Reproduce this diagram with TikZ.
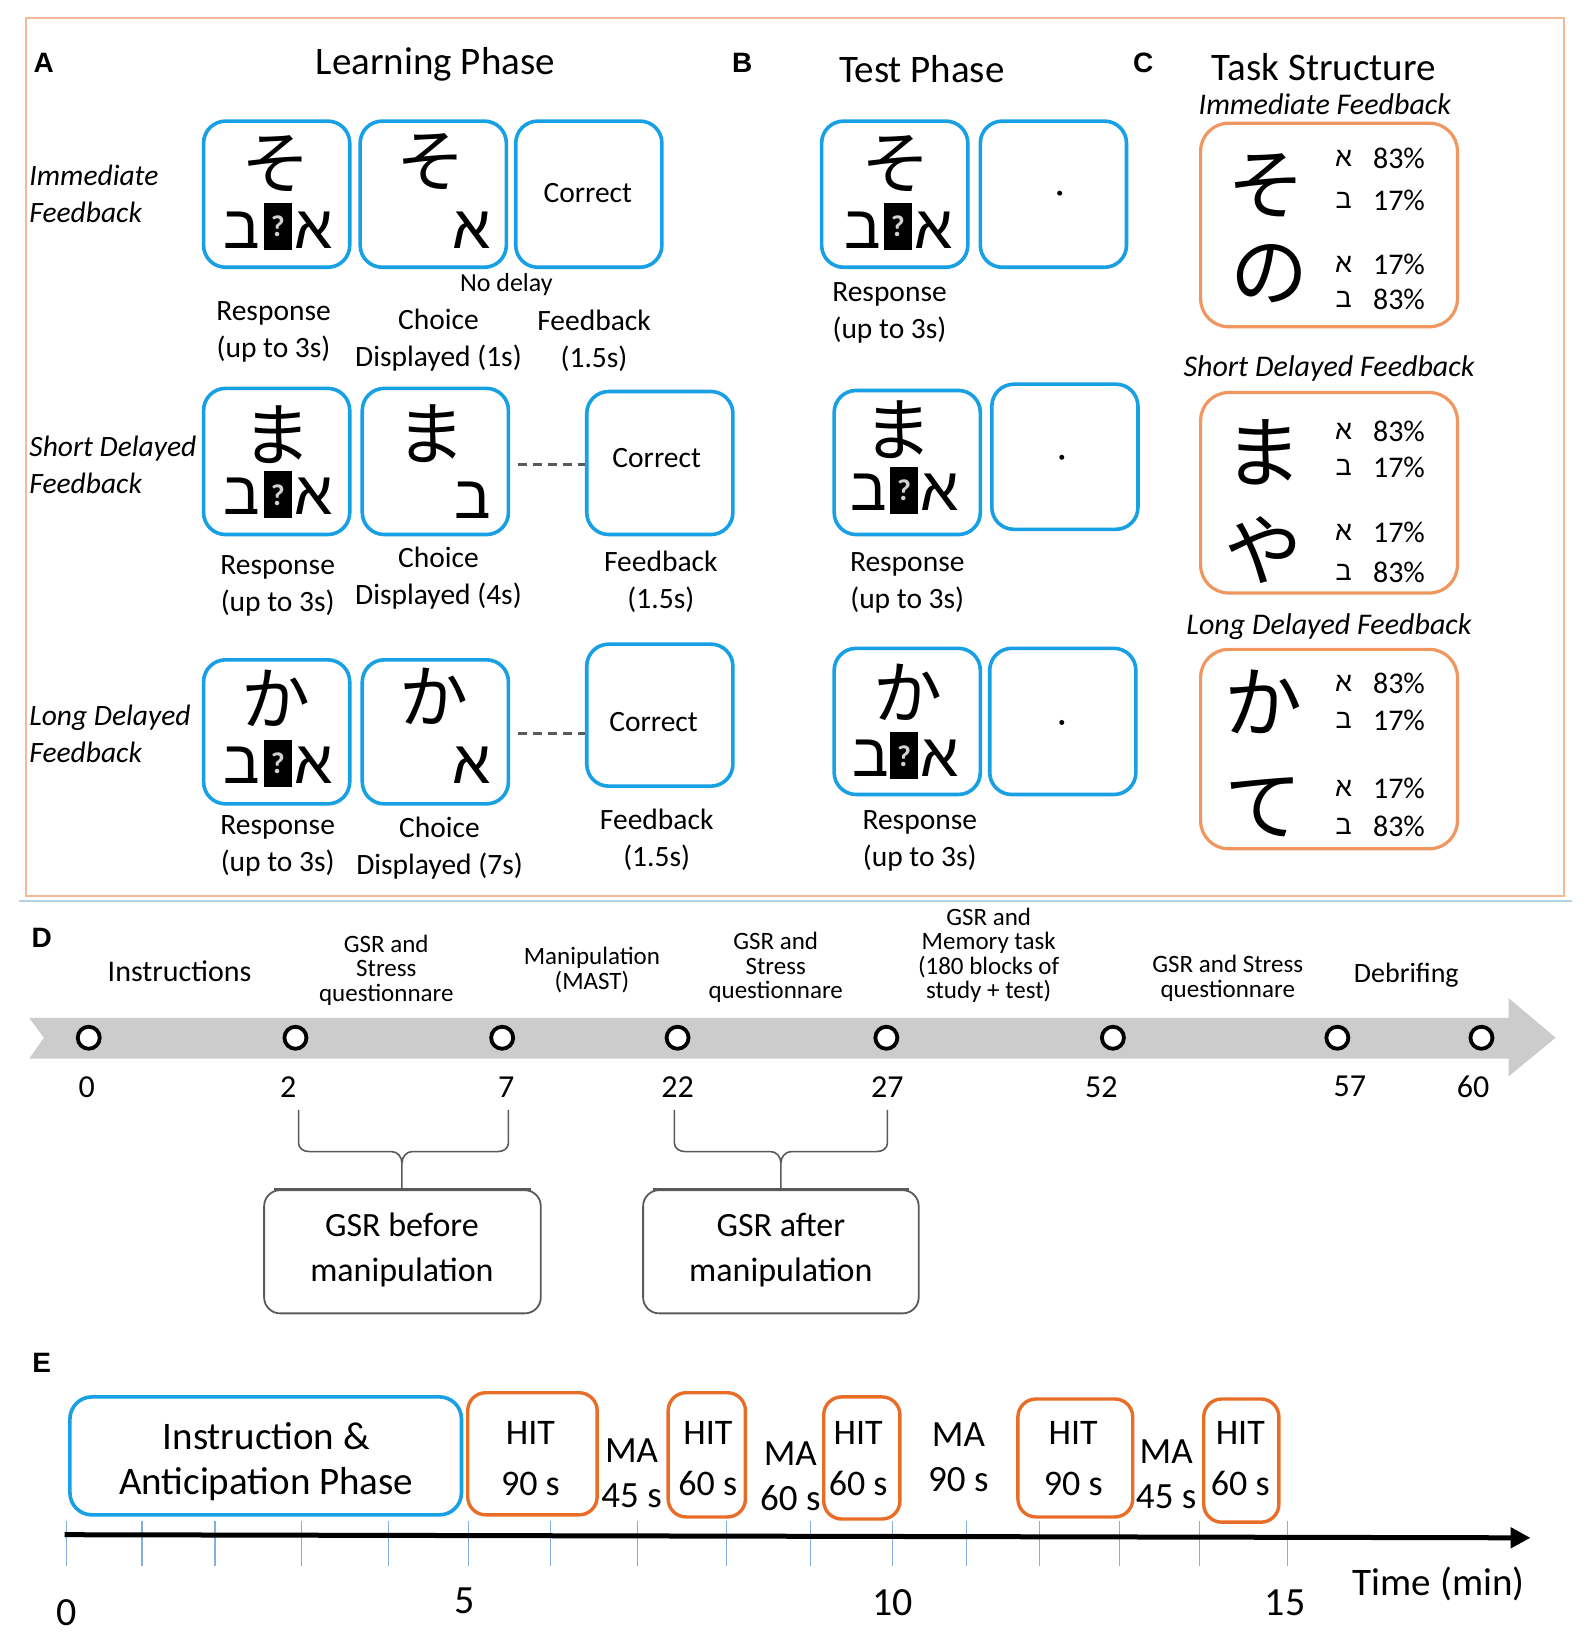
\documentclass[tikz,border=0pt]{standalone}
\usepackage{fontspec}
\setmainfont{Carlito}
\newfontfamily\jp{Noto Sans CJK JP}
\newfontfamily\heb[Script=Hebrew]{Liberation Sans}
\newfontfamily\arl{Liberation Sans}
\TeXXeTstate=1
\usetikzlibrary{fit,arrows.meta}
\definecolor{bblue}{RGB}{24,160,228}
\definecolor{ora}{RGB}{240,150,95}
\definecolor{frameor}{RGB}{246,185,150}
\definecolor{hitor}{RGB}{232,110,40}
\definecolor{tickb}{RGB}{130,175,220}
\definecolor{bandg}{RGB}{204,204,204}
\definecolor{boxg}{RGB}{90,90,90}
\newcommand\fsz[2]{\fontsize{#1}{#2}\selectfont}
\newcommand\hb[1]{{\heb\beginR#1\endR}}
\tikzset{
  bluebox/.style={draw=bblue, line width=3.6pt, rounded corners=22pt, inner sep=0pt},
  orabox/.style={draw=ora, line width=3.2pt, rounded corners=28pt, inner sep=0pt},
  hitbox/.style={draw=hitor, line width=3.4pt, rounded corners=18pt, inner sep=0pt},
  gbox/.style={draw=boxg, line width=1.8pt, rounded corners=16pt, inner sep=0pt},
  panel/.style={font=\arl\bfseries\fsz{28}{28}, inner sep=0pt},
  title/.style={font=\fsz{39}{39}, inner sep=0pt},
  lab/.style={align=center, inner sep=0pt, font=\fsz{29.5}{37}},
  rowlab/.style={align=left, anchor=west, inner sep=0pt, font=\itshape\fsz{29.5}{37}},
  sub/.style={inner sep=0pt, font=\itshape\fsz{30}{30}},
  kana/.style={inner sep=0pt, font=\jp\fsz{69}{69}},
  bigkana/.style={inner sep=0pt, font=\jp\fsz{78}{78}},
  hebl/.style={anchor=base, inner sep=0pt, font=\heb\fsz{61}{61}},
  hebs/.style={inner sep=0pt, font=\heb\fsz{27}{27}},
  pct/.style={inner sep=0pt, font=\fsz{30}{30}},
  qbox/.style={fill=black, minimum width=28pt, minimum height=47pt, inner sep=0pt, text=gray!35, font=\bfseries\fsz{30}{30}},
  dotn/.style={circle, fill=black, minimum size=5pt, inner sep=0pt},
  dlab/.style={align=center, inner sep=0pt, font=\fsz{25}{24.5}},
  dnum/.style={inner sep=0pt, font=\fsz{32}{32}},
  tcirc/.style={circle, draw=black, fill=white, line width=3.8pt, minimum size=22pt, inner sep=0pt},
  brace/.style={draw=boxg, line width=1.6pt},
  elab/.style={align=center, inner sep=0pt, font=\fsz{37}{45}},
  tick/.style={draw=tickb, line width=1.2pt},
  dashc/.style={draw=boxg, line width=3pt, dash pattern=on 9pt off 6pt},
}
\begin{document}
\begin{tikzpicture}[x=1.0439pt,y=-1.0439pt]
\useasboundingbox (0,0) rectangle (1526,1568);
\fill[white] (0,0) rectangle (1526,1568);
% outer frame
\draw[frameor, line width=2.4pt] (25,17) rectangle (1498,858);
\draw[gray!40!bblue!40, line width=2pt] (18,863) -- (1506,863);
% ---------------- titles
\node[panel] (pA) at (42,60) {A};
\node[title] (tA) at (417,62) {Learning Phase};
\node[panel] (pB) at (711,60) {B};
\node[title] (tB) at (883,66) {Test Phase};
\node[panel] (pC) at (1095,60) {C};
\node[title] (tC) at (1268,64) {Task Structure};
% ---------------- Learning phase row 1
\node[rowlab] (rl1) at (28,186) {Immediate\\Feedback};
\node[bluebox, fit={(195,116) (335,256)}] (L1a) {};
\node[bluebox, fit={(345,116) (485,256)}] (L1b) {};
\node[bluebox, fit={(494,116) (634,256)}] (L1c) {};
\node[kana] (L1ak) at (264,157) {そ};
\node[hebl] (L1ab) at (232,238) {\hb{ב}};
\node[qbox] (L1aq) at (266,217) {?};
\node[hebl] (L1aa) at (300,238) {\hb{א}};
\node[kana] (L1bk) at (413,155) {そ};
\node[hebl] (L1ba) at (452,238) {\hb{א}};
\node[lab] (L1ct) at (563,185) {Correct};
\node[inner sep=0pt, font=\fsz{26}{26}] (nd) at (485,273) {No delay};
\node[lab] (L1r) at (262,318) {Response\\(up to 3s)};
\node[lab] (L1s) at (420,326) {Choice\\Displayed (1s)};
\node[lab] (L1f) at (569,326) {Feedback\\(1.5s)};
% ---------------- Learning phase row 2
\node[rowlab] (rl2) at (28,445) {Short Delayed\\Feedback};
\node[bluebox, fit={(195,372) (335,512)}] (L2a) {};
\node[bluebox, fit={(347,372) (487,512)}] (L2b) {};
\node[bluebox, fit={(562,375) (702,512)}] (L2c) {};
\node[kana] (L2ak) at (265,416) {ま};
\node[hebl] (L2ab) at (232,493) {\hb{ב}};
\node[qbox] (L2aq) at (266,474) {?};
\node[hebl] (L2aa) at (300,493) {\hb{א}};
\node[kana] (L2bk) at (413,415) {ま};
\node[hebl] (L2bb) at (453,497) {\hb{ב}};
\node[lab] (L2ct) at (629,439) {Correct};
\draw[dashc] ([xshift=8pt]L2b.east |- 0,445) -- (L2c.west |- 0,445);
\node[lab] (L2r) at (266,561) {Response\\(up to 3s)};
\node[lab] (L2s) at (420,554) {Choice\\Displayed (4s)};
\node[lab] (L2f) at (633,557) {Feedback\\(1.5s)};
% ---------------- Learning phase row 3
\node[rowlab] (rl3) at (28,703) {Long Delayed\\Feedback};
\node[bluebox, fit={(195,632) (335,770)}] (L3a) {};
\node[bluebox, fit={(347,632) (487,770)}] (L3b) {};
\node[bluebox, fit={(562,617) (702,753)}] (L3c) {};
\node[kana] (L3ak) at (264,669) {か};
\node[hebl] (L3ab) at (232,750) {\hb{ב}};
\node[qbox] (L3aq) at (266,731) {?};
\node[hebl] (L3aa) at (300,750) {\hb{א}};
\node[kana] (L3bk) at (416,667) {か};
\node[hebl] (L3ba) at (452,750) {\hb{א}};
\node[lab] (L3ct) at (626,692) {Correct};
\draw[dashc] ([xshift=8pt]L3b.east |- 0,703) -- (L3c.west |- 0,703);
\node[lab] (L3r) at (266,810) {Response\\(up to 3s)};
\node[lab] (L3s) at (421,812) {Choice\\Displayed (7s)};
\node[lab] (L3f) at (629,804) {Feedback\\(1.5s)};
% ---------------- Test phase
\node[bluebox, fit={(787,116) (927,256)}] (T1a) {};
\node[bluebox, fit={(939,116) (1079,256)}] (T1b) {};
\node[kana] (T1ak) at (858,157) {そ};
\node[hebl] (T1ab) at (826,238) {\hb{ב}};
\node[qbox] (T1aq) at (860,217) {?};
\node[hebl] (T1aa) at (894,238) {\hb{א}};
\node[dotn] (T1d) at (1015,185) {};
\node[lab] (T1r) at (852,300) {Response\\(up to 3s)};
\node[bluebox, fit={(799,374) (939,512)}] (T2a) {};
\node[bluebox, fit={(950,368) (1090,507)}] (T2b) {};
\node[kana] (T2ak) at (860,412) {ま};
\node[hebl] (T2ab) at (832,489) {\hb{ב}};
\node[qbox] (T2aq) at (866,470) {?};
\node[hebl] (T2aa) at (900,489) {\hb{א}};
\node[dotn] (T2d) at (1017,438) {};
\node[lab] (T2r) at (869,558) {Response\\(up to 3s)};
\node[bluebox, fit={(799,621) (939,761)}] (T3a) {};
\node[bluebox, fit={(948,621) (1088,761)}] (T3b) {};
\node[kana] (T3ak) at (870,663) {か};
\node[hebl] (T3ab) at (834,744) {\hb{ב}};
\node[qbox] (T3aq) at (866,724) {?};
\node[hebl] (T3aa) at (900,744) {\hb{א}};
\node[dotn] (T3d) at (1017,692) {};
\node[lab] (T3r) at (881,805) {Response\\(up to 3s)};
% ---------------- Task structure
\node[sub] (S1t) at (1269,100) {Immediate Feedback};
\node[orabox, fit={(1150,118) (1396,313)}] (S1) {};
\node[bigkana] (S1k1) at (1213,178) {そ};
\node[bigkana] (S1k2) at (1216,262) {の};
\node[hebs] (S1h1) at (1287,152) {\hb{א}}; \node[pct] (S1p1) at (1340,152) {83\%};
\node[hebs] (S1h2) at (1287,192) {\hb{ב}}; \node[pct] (S1p2) at (1340,192) {17\%};
\node[hebs] (S1h3) at (1287,253) {\hb{א}}; \node[pct] (S1p3) at (1340,253) {17\%};
\node[hebs] (S1h4) at (1287,287) {\hb{ב}}; \node[pct] (S1p4) at (1340,287) {83\%};
\node[sub] (S2t) at (1273,353) {Short Delayed Feedback};
\node[orabox, fit={(1150,376) (1396,568)}] (S2) {};
\node[bigkana] (S2k1) at (1210,433) {ま};
\node[bigkana] (S2k2) at (1210,527) {や};
\node[hebs] (S2h1) at (1287,413) {\hb{א}}; \node[pct] (S2p1) at (1340,413) {83\%};
\node[hebs] (S2h2) at (1287,448) {\hb{ב}}; \node[pct] (S2p2) at (1340,448) {17\%};
\node[hebs] (S2h3) at (1287,510) {\hb{א}}; \node[pct] (S2p3) at (1340,510) {17\%};
\node[hebs] (S2h4) at (1287,548) {\hb{ב}}; \node[pct] (S2p4) at (1340,548) {83\%};
\node[sub] (S3t) at (1273,600) {Long Delayed Feedback};
\node[orabox, fit={(1150,622) (1396,813)}] (S3) {};
\node[bigkana] (S3k1) at (1210,672) {か};
\node[bigkana] (S3k2) at (1210,773) {て};
\node[hebs] (S3h1) at (1287,655) {\hb{א}}; \node[pct] (S3p1) at (1340,655) {83\%};
\node[hebs] (S3h2) at (1287,690) {\hb{ב}}; \node[pct] (S3p2) at (1340,690) {17\%};
\node[hebs] (S3h3) at (1287,755) {\hb{א}}; \node[pct] (S3p3) at (1340,755) {17\%};
\node[hebs] (S3h4) at (1287,792) {\hb{ב}}; \node[pct] (S3p4) at (1340,792) {83\%};
% ---------------- Panel D
\node[panel] (pD) at (40,898) {D};
\fill[bandg] (28,975) -- (1445,975) -- (1445,956) -- (1490,994) -- (1445,1031) -- (1445,1014) -- (28,1014) -- (42,994) -- cycle;
\foreach \x/\n/\nx [count=\i] in {85/0/83, 283/2/276, 481/7/485, 649/22/649, 849/27/850, 1066/52/1055, 1281/57/1293, 1419/60/1411}{
  \node[tcirc] (c\i) at (\x,994) {};
  \node[dnum] (n\i) at (\nx,1041) {\n};
}
\node[dlab, font=\fsz{30}{30}] (d1) at (172,930) {Instructions};
\node[dlab] (d2) at (370,929) {GSR and\\Stress\\questionnare};
\node[dlab] (d3) at (567,929) {Manipulation\\(MAST)};
\node[dlab] (d4) at (743,927) {GSR and\\Stress\\questionnare};
\node[dlab] (d5) at (947,915) {GSR and\\Memory task\\(180 blocks of\\study + test)};
\node[dlab] (d6) at (1176,937) {GSR and Stress\\questionnare};
\node[dlab, font=\fsz{28}{28}] (d7) at (1347,934) {Debrifing};
% braces and boxes
\node[gbox, fit={(253,1140) (518,1258)}] (gb1) {};
\node[elab, font=\fsz{34}{45}] (gb1t) at (385,1197) {GSR before\\manipulation};
\node[gbox, fit={(616,1140) (880,1258)}] (gb2) {};
\node[elab, font=\fsz{34}{45}] (gb2t) at (748,1197) {GSR after\\manipulation};
\draw[boxg, line width=3.2pt] ([xshift=11pt]gb1.north west) -- ([xshift=-11pt]gb1.north east);
\draw[boxg, line width=3.2pt] ([xshift=11pt]gb2.north west) -- ([xshift=-11pt]gb2.north east);
\coordinate (b1l) at (286,1063); \coordinate (b1r) at (487,1063); \coordinate (b1m) at (385,1114);
\coordinate (b2l) at (646,1063); \coordinate (b2r) at (850,1063); \coordinate (b2m) at (748,1114);
\draw[brace] (b1l) -- (286,1095) to[out=-90,in=180] (296,1103) -- (375,1103) to[out=0,in=90] (b1m)
  (b1r) -- (487,1095) to[out=-90,in=0] (477,1103) -- (395,1103) to[out=180,in=90] (b1m) -- (gb1.north -| b1m);
\draw[brace] (b2l) -- (646,1095) to[out=-90,in=180] (656,1103) -- (738,1103) to[out=0,in=90] (b2m)
  (b2r) -- (850,1095) to[out=-90,in=0] (840,1103) -- (758,1103) to[out=180,in=90] (b2m) -- (gb2.north -| b2m);
% ---------------- Panel E
\node[panel] (pE) at (40,1305) {E};
\foreach \x [count=\i] in {64,136,206,289,372,449,527,611,696,776,855,926,996,1072,1149,1233}{
  \draw[tick] (\x,1457) -- (\x,1500);
}
\coordinate (ax0) at (62,1470);
\coordinate (ax1) at (1466,1473);
\draw[line width=5pt, -{Triangle[length=20pt,width=20pt]}] (ax0) -- (ax1);
\node[bluebox, fit={(67,1338) (442,1451)}] (E0) {};
\node[elab, font=\fsz{39}{45}] (E0t) at (255,1400) {Instruction \&\\Anticipation Phase};
\node[hitbox, fit={(448,1334) (572,1451)}] (H1) {};
\node[elab, font=\fsz{36}{51}] (H1t) at (508,1397) {HIT\\90 s};
\node[elab] (M1) at (605,1411) {MA\\45 s};
\node[hitbox, fit={(640,1334) (714,1453)}] (H2) {};
\node[elab, font=\fsz{36}{51}] (H2t) at (678,1397) {HIT\\60 s};
\node[elab] (M2) at (757,1414) {MA\\60 s};
\node[hitbox, fit={(789,1338) (862,1455)}] (H3) {};
\node[elab, font=\fsz{36}{51}] (H3t) at (822,1397) {HIT\\60 s};
\node[elab] (M3) at (918,1396) {MA\\90 s};
\node[hitbox, fit={(975,1340) (1085,1453)}] (H4) {};
\node[elab, font=\fsz{36}{51}] (H4t) at (1028,1397) {HIT\\90 s};
\node[elab] (M4) at (1117,1412) {MA\\45 s};
\node[hitbox, fit={(1153,1340) (1225,1458)}] (H5) {};
\node[elab, font=\fsz{36}{51}] (H5t) at (1188,1397) {HIT\\60 s};
\node[elab, font=\fsz{40}{40}] (x0) at (64,1545) {0};
\node[elab, font=\fsz{40}{40}] (x5) at (445,1533) {5};
\node[elab, font=\fsz{40}{40}] (x10) at (855,1535) {10};
\node[elab, font=\fsz{40}{40}] (x15) at (1231,1535) {15};
\node[elab, font=\fsz{39}{39}] (tm) at (1378,1517) {Time (min)};
\end{tikzpicture}
\end{document}
